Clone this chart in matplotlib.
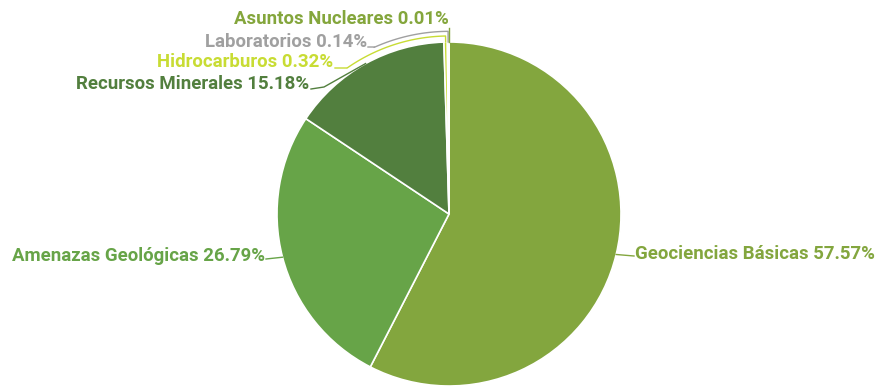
import numpy as np
import matplotlib
matplotlib.use("Agg")
import matplotlib.pyplot as plt

categories = ["Geociencias Básicas", "Amenazas Geológicas", "Recursos Minerales",
              "Hidrocarburos", "Laboratorios", "Asuntos Nucleares"]
values = [57.57, 26.79, 15.18, 0.32, 0.14, 0.01]
colors = ["#83a63e", "#67a448", "#527f3e", "#c8dc34", "#a0a0a0", "#84a63c"]

plt.rcParams["font.family"] = ["Roboto", "DejaVu Sans"]

W, H = 878, 386
fig = plt.figure(figsize=(W / 100, H / 100), dpi=100)
ax = fig.add_axes([0, 0, 1, 1])

wedges, _ = ax.pie(values, colors=colors, startangle=90, counterclock=False,
                   radius=1.0, wedgeprops=dict(edgecolor="white", linewidth=1.2))

# pixel geometry of the pie
cx, cy, R = 449, 214, 172
ax.set_aspect("equal")
ax.set_xlim(-cx / R, (W - cx) / R)
ax.set_ylim(-(H - cy) / R, cy / R)
ax.axis("off")


def px(x, y):
    return (x - cx) / R, (cy - y) / R


total = sum(values)
mids = []
acc = 0.0
for v in values:
    mid = 90 - (acc + v / 2) / total * 360
    mid = (mid + 180) % 360 - 180
    mids.append(np.deg2rad(mid))
    acc += v


def edge(i, r=1.0):
    a = mids[i]
    return r * np.cos(a), r * np.sin(a)


fs = 13.4
fw = "bold"
lw = 1.0

# Geociencias Básicas
ex, ey = edge(0)
tx, ty = px(634, 256)
ax.plot([ex, tx], [ey, ty], color=colors[0], lw=lw)
ax.text(*px(635, 254), f"{categories[0]} {values[0]:.2f}%", color=colors[0],
        fontsize=fs, fontweight=fw, ha="left", va="center")

# Amenazas Geológicas
ex, ey = edge(1)
tx, ty = px(266, 259)
ax.plot([ex, tx], [ey, ty], color=colors[1], lw=lw)
ax.text(*px(265, 256), f"{categories[1]} {values[1]:.2f}%", color=colors[1],
        fontsize=fs, fontweight=fw, ha="right", va="center")

# Recursos Minerales
ex, ey = edge(2)
p1 = px(311, 89)
p2 = px(324, 87)
ax.plot([p1[0], p2[0], ex], [p1[1], p2[1], ey], color=colors[2], lw=lw)
ax.text(*px(309, 84), f"{categories[2]} {values[2]:.2f}%", color=colors[2],
        fontsize=fs, fontweight=fw, ha="right", va="center")


def arc_leader(i, start_px, elbow_px, r_arc, color):
    sx, sy = px(*start_px)
    exx, eyy = px(*elbow_px)
    a0 = np.arctan2(eyy, exx)
    a1 = mids[i]
    ang = np.linspace(a0, a1, 60)
    xs = [sx, exx] + list(r_arc * np.cos(ang)) + [np.cos(a1)]
    ys = [sy, eyy] + list(r_arc * np.sin(ang)) + [np.sin(a1)]
    ax.plot(xs, ys, color=color, lw=lw)


# Hidrocarburos
arc_leader(3, (335, 68), (347, 68), 1.035, colors[3])
ax.text(*px(333, 62), f"{categories[3]} {values[3]:.2f}%", color=colors[3],
        fontsize=fs, fontweight=fw, ha="right", va="center")

# Laboratorios
arc_leader(4, (368, 47), (374, 47), 1.062, colors[4])
ax.text(*px(367, 42), f"{categories[4]} {values[4]:.2f}%", color=colors[4],
        fontsize=fs, fontweight=fw, ha="right", va="center")

# Asuntos Nucleares
ex, ey = edge(5)
top = px(449, 28)
ax.plot([ex, ex], [ey, top[1]], color=colors[5], lw=lw)
ax.text(*px(449, 19), f"{categories[5]} {values[5]:.2f}%", color=colors[5],
        fontsize=fs, fontweight=fw, ha="right", va="center")

fig.savefig("out.png", dpi=100)
